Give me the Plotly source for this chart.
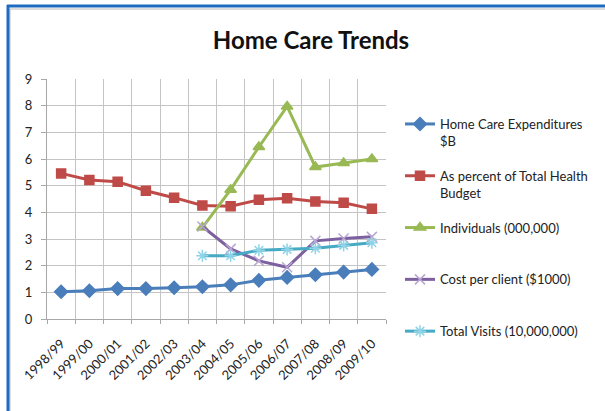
import plotly.graph_objects as go

years = ["1998/99", "1999/00", "2000/01", "2001/02", "2002/03", "2003/04",
         "2004/05", "2005/06", "2006/07", "2007/08", "2008/09", "2009/10"]
expenditures = [1.02, 1.06, 1.14, 1.14, 1.17, 1.21, 1.28, 1.45, 1.56, 1.66, 1.76, 1.86]
pct_budget = [5.46, 5.21, 5.15, 4.81, 4.55, 4.26, 4.23, 4.47, 4.53, 4.41, 4.36, 4.13]
individuals = [None, None, None, None, None, 3.43, 4.85, 6.45, 7.97, 5.70, 5.85, 6.00]
cost_client = [None, None, None, None, None, 3.47, 2.63, 2.18, 1.94, 2.93, 3.02, 3.08]
total_visits = [None, None, None, None, None, 2.37, 2.37, 2.58, 2.61, 2.65, 2.76, 2.86]

series = [
    ("Home Care Expenditures<br>$B", expenditures, "#4A7EBB", "diamond", 10, "#4A7EBB"),
    ("As percent of Total Health<br>Budget", pct_budget, "#BE4B48", "square", 9, "#BE4B48"),
    ("Individuals (000,000)<br> ", individuals, "#98B954", "triangle-up", 10, "#98B954"),
    ("Cost per client ($1000)<br> ", cost_client, "#7D60A0", "x-thin-open", 10, "#B9A6D2"),
    ("Total Visits (10,000,000)<br> ", total_visits, "#46AAC5", "asterisk-open", 10, "#8ED3E6"),
]

fig = go.Figure()
for i, (name, vals, color, sym, size, mcolor) in enumerate(series):
    fig.add_trace(go.Scatter(
        x=years, y=vals, name=name, mode="lines+markers",
        line=dict(color=color, width=3),
        marker=dict(symbol=sym, size=size, color=mcolor,
                    line=dict(color=mcolor, width=1.5)),
        legendgroup=f"g{i}", connectgaps=False,
    ))

W, H = 605, 411
L, R, T, B = 47, 219, 79, 92
pw, ph = W - L - R, H - T - B

def px(x):
    return (x - L) / pw

def py(y):
    return (H - B - y) / ph

fig.update_layout(
    width=W, height=H,
    margin=dict(l=L, r=R, t=T, b=B, autoexpand=False),
    paper_bgcolor="white", plot_bgcolor="white",
    font=dict(family="Lato, Open Sans, sans-serif", color="#222222"),
    title=dict(text="<b>Home Care Trends</b>", xref="container", yref="container",
               x=311 / W, xanchor="center", y=1 - 41 / H, yanchor="middle",
               font=dict(size=24, family="Lato, Open Sans, sans-serif", color="#111111")),
    xaxis=dict(type="category", tickson="boundaries", showgrid=True,
               gridcolor="#C4C4C4", gridwidth=1, showline=True, linecolor="#A8A8A8",
               ticks="outside", ticklen=4, tickcolor="#A8A8A8", tickangle=-45,
               tickfont=dict(size=13, color="#222222"), range=[-0.5, 11.5],
               ticklabelstandoff=11),
    yaxis=dict(range=[0, 9], dtick=1, showgrid=True, gridcolor="#C4C4C4", gridwidth=1,
               showline=True, linecolor="#A8A8A8", ticks="outside", ticklen=5,
               tickcolor="#A8A8A8", tickfont=dict(size=13, color="#222222"),
               ticklabelstandoff=6, zeroline=False),
    legend=dict(x=px(400), y=py(109), xanchor="left", yanchor="top",
                font=dict(size=13, color="#222222"), valign="top",
                tracegroupgap=15, itemwidth=30, bgcolor="rgba(0,0,0,0)",
                maxheight=380),
    showlegend=True,
    shapes=[
        dict(type="line", xref="paper", yref="paper", x0=px(10), x1=px(10),
             y0=py(9), y1=py(H), line=dict(color="#BBBBBB", width=1)),
        dict(type="line", xref="paper", yref="paper", x0=px(10), x1=px(W),
             y0=py(9), y1=py(9), line=dict(color="#BBBBBB", width=1)),
        dict(type="line", xref="paper", yref="paper", x0=px(8), x1=px(8),
             y0=py(5), y1=py(H), line=dict(color="#1E6CC0", width=3)),
        dict(type="line", xref="paper", yref="paper", x0=px(7), x1=px(W),
             y0=py(6), y1=py(6), line=dict(color="#1E6CC0", width=3)),
    ],
)

fig.write_html("out.html", config={"displayModeBar": False},
               post_script="document.body.style.margin='0px';")
